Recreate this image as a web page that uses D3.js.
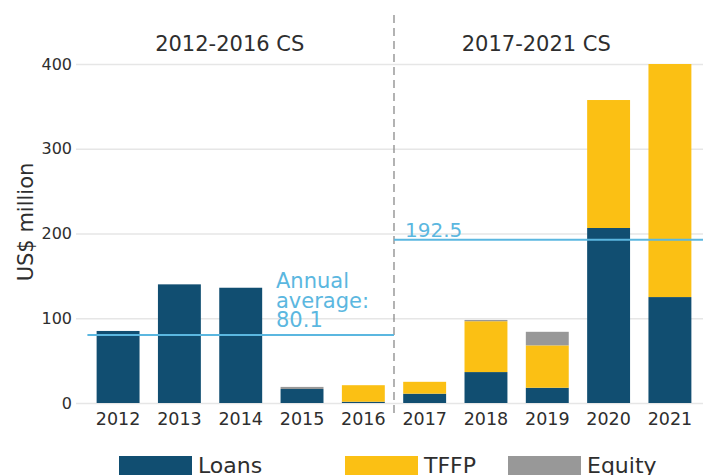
<!DOCTYPE html>
<html>
<head>
<meta charset="utf-8">
<script src="https://cdn.jsdelivr.net/npm/d3@7"></script>
<style>
  body { margin: 0; background: #fff; }
  svg { display: block; font-family: "DejaVu Sans", sans-serif; }
</style>
</head>
<body>
<svg width="703" height="475"></svg>
<script>
// values, US$ million
const years = [2012, 2013, 2014, 2015, 2016, 2017, 2018, 2019, 2020, 2021];
const loans = [85, 140, 136, 16.5, 1.5, 11, 36.5, 18, 206.5, 125];
const tffp = [0, 0, 0, 0, 19.5, 14, 60, 50, 151, 275];
const equity = [0, 0, 0, 2.5, 0, 0, 1.5, 16, 0, 0];
const periods = ["2012-2016 CS", "2017-2021 CS"];
const averages = [80.1, 192.5];
const yTicks = [0, 100, 200, 300, 400];
const seriesNames = ["Loans", "TFFP", "Equity"];

(function() {
  let colors = { Loans: "#114e71", TFFP: "#fbc014", Equity: "#989898" },
      avgColor = "#5bb7e0",
      textColor = "#2e2e2e";

  let svg = d3.select("svg");

  let x = d3.scaleBand()
      .domain(years)
      .range([77, 711])
      .paddingInner(0.3)
      .paddingOuter(0.32);

  let y = d3.scaleLinear()
      .domain([0, 400])
      .range([403, 64]);

  let gap = x.step() * 0.15;

  // gridlines + y labels
  let yAxis = svg.append("g")
      .attr("transform", "translate(76,0)")
      .call(d3.axisLeft(y).tickValues(yTicks).tickSize(-640).tickPadding(4));
  yAxis.select(".domain").remove();
  yAxis.selectAll(".tick line").attr("stroke", "#e6e6e6").attr("stroke-width", 1.5);
  yAxis.selectAll(".tick text")
      .attr("fill", textColor)
      .style("font-size", "16px")
      .style("font-family", "DejaVu Sans, sans-serif");

  // stacked bars
  let rows = years.map(function(d, i) {
    return { year: d, Loans: loans[i], TFFP: tffp[i], Equity: equity[i] };
  });
  let stack = d3.stack().keys(seriesNames)(rows);

  svg.append("g").selectAll("g")
      .data(stack)
      .join("g")
      .attr("fill", function(d) { return colors[d.key]; })
      .selectAll("rect")
      .data(function(d) { return d; })
      .join("rect")
      .attr("x", function(d) { return x(d.data.year); })
      .attr("y", function(d) { return y(d[1]); })
      .attr("width", x.bandwidth())
      .attr("height", function(d) { return y(d[0]) - y(d[1]); });

  // x labels
  let xAxis = svg.append("g")
      .attr("transform", "translate(0,403)")
      .call(d3.axisBottom(x).tickSize(0).tickPadding(10));
  xAxis.select(".domain").remove();
  xAxis.selectAll(".tick text")
      .attr("fill", textColor)
      .attr("dy", "0.71em")
      .style("font-size", "17.5px")
      .style("font-family", "DejaVu Sans, sans-serif");

  // divider between the two strategies
  let split = x(2016) + x.bandwidth() + gap;
  svg.append("line")
      .attr("x1", split).attr("x2", split)
      .attr("y1", 15).attr("y2", 416)
      .attr("stroke", "#8a8a8a")
      .attr("stroke-width", 1.3)
      .attr("stroke-dasharray", "8,5");

  // average lines
  let spans = [[x(2012) - gap, split], [split, 703]];
  svg.append("g").selectAll("line")
      .data(averages)
      .join("line")
      .attr("x1", function(d, i) { return spans[i][0]; })
      .attr("x2", function(d, i) { return spans[i][1]; })
      .attr("y1", function(d) { return y(d); })
      .attr("y2", function(d) { return y(d); })
      .attr("stroke", avgColor)
      .attr("stroke-width", 2);

  let lab = svg.append("text")
      .attr("x", 276)
      .attr("fill", avgColor)
      .style("font-size", "21px");
  ["Annual", "average:", averages[0].toFixed(1)].forEach(function(t, i) {
    lab.append("tspan").attr("x", 276).attr("y", 288 + i * 19.5).text(t);
  });

  svg.append("text")
      .attr("x", split + 11)
      .attr("y", y(averages[1]) - 3)
      .attr("fill", avgColor)
      .style("font-size", "20px")
      .text(averages[1].toFixed(1));

  // period titles
  let groups = [[years[0], years[4]], [years[5], years[9]]];
  svg.append("g").selectAll("text")
      .data(periods)
      .join("text")
      .attr("x", function(d, i) {
        return (x(groups[i][0]) + x(groups[i][1]) + x.bandwidth()) / 2 - 11;
      })
      .attr("y", 51)
      .attr("text-anchor", "middle")
      .attr("fill", textColor)
      .style("font-size", "21px")
      .text(function(d) { return d; });

  // y title
  svg.append("text")
      .attr("transform", "translate(33,222) rotate(-90)")
      .attr("text-anchor", "middle")
      .attr("fill", textColor)
      .style("font-size", "21px")
      .text("US$ million");

  // legend (cut by the bottom edge like the original)
  let legendX = [119, 345, 508];
  let leg = svg.append("g").selectAll("g")
      .data(seriesNames)
      .join("g")
      .attr("transform", function(d, i) { return "translate(" + legendX[i] + ",456)"; });
  leg.append("rect")
      .attr("width", 73)
      .attr("height", 22)
      .attr("fill", function(d) { return colors[d]; });
  leg.append("text")
      .attr("x", 79)
      .attr("y", 17)
      .attr("fill", textColor)
      .style("font-size", "22px")
      .text(function(d) { return d; });
})();
</script>
</body>
</html>
